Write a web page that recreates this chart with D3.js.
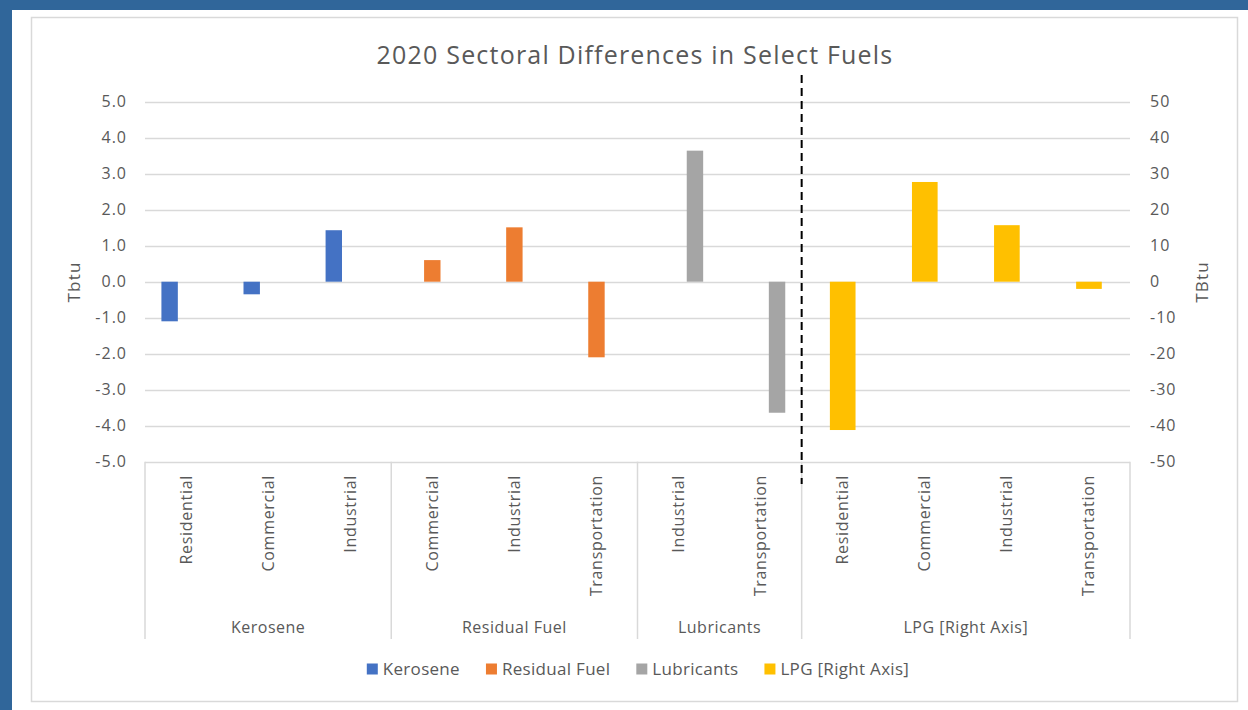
<!DOCTYPE html>
<html>
<head>
<meta charset="utf-8">
<script src="https://cdn.jsdelivr.net/npm/d3@7"></script>
<style>
  body { margin: 0; background: #30669a; }
  svg { display: block; }
  text { font-family: "Open Sans", Lato, sans-serif; fill: #595959; }
</style>
</head>
<body>
<svg width="1248" height="710"></svg>
<script>
// categories along the x axis, grouped by fuel
var fuels = ["Kerosene", "Residual Fuel", "Lubricants", "LPG [Right Axis]"];
var sectors = [
  ["Residential", "Commercial", "Industrial"],
  ["Commercial", "Industrial", "Transportation"],
  ["Industrial", "Transportation"],
  ["Residential", "Commercial", "Industrial", "Transportation"]
];
// values per fuel, same order as sectors (LPG on the right axis)
var kerosene = [-1.1, -0.35, 1.43];
var residualFuel = [0.6, 1.51, -2.1];
var lubricants = [3.64, -3.64];
var lpg = [-41.2, 27.7, 15.7, -2.0];

var leftTicks = [5, 4, 3, 2, 1, 0, -1, -2, -3, -4, -5];
var rightTicks = [50, 40, 30, 20, 10, 0, -10, -20, -30, -40, -50];

var colors = ["#4472c4", "#ed7d31", "#a5a5a5", "#ffc000"];
var values = [kerosene, residualFuel, lubricants, lpg];

// flat list of categories
var cats = [];
fuels.forEach(function(f, i) {
  sectors[i].forEach(function(s, j) {
    cats.push({ id: f + "|" + s, fuel: f, sector: s, series: i, value: values[i][j] });
  });
});

var svg = d3.select("svg");

// white page + light chart border
svg.append("rect").attr("x", 12).attr("y", 10).attr("width", 1236).attr("height", 700).attr("fill", "#fff");
svg.append("rect").attr("x", 31.5).attr("y", 17.5).attr("width", 1206).attr("height", 684)
  .attr("fill", "#fff").attr("stroke", "#d9d9d9").attr("stroke-width", 1.5);

var plotLeft = 145, plotRight = 1130, plotTop = 101.7, plotBottom = 461.7;

var x = d3.scaleBand().domain(cats.map(function(d) { return d.id; }))
  .range([plotLeft, plotRight]).paddingInner(0).paddingOuter(0);
var y = d3.scaleLinear().domain([-5, 5]).range([plotBottom, plotTop]);
var y2 = d3.scaleLinear().domain([-50, 50]).range([plotBottom, plotTop]);

// primary series share a cluster of 3, secondary has its own cluster of 1
var sub = d3.scaleBand().domain([0, 1, 2]).range([0, x.bandwidth()]).paddingInner(0).paddingOuter(1);
var sub2 = d3.scaleBand().domain([3]).range([0, x.bandwidth()]).paddingInner(0).paddingOuter(1.1);

// gridlines
svg.append("g").selectAll("line").data(leftTicks).enter().append("line")
  .attr("x1", plotLeft).attr("x2", plotRight)
  .attr("y1", function(d) { return Math.round(y(d)) + 0.5; })
  .attr("y2", function(d) { return Math.round(y(d)) + 0.5; })
  .attr("stroke", "#d9d9d9").attr("stroke-width", 1.5);

// excel uses a plain hyphen for negatives
var fmt1 = function(d) { return d3.format(".1f")(d).replace("\u2212", "-"); };
var fmt0 = function(d) { return d3.format("d")(d).replace("\u2212", "-"); };

// left axis
var yAxis = d3.axisLeft(y).tickValues(leftTicks).tickSize(0).tickPadding(18).tickFormat(fmt1);
var gy = svg.append("g").attr("transform", "translate(" + plotLeft + ",0)").call(yAxis);
gy.select(".domain").remove();
gy.selectAll("text").style("font-size", "16px").style("letter-spacing", "1px").attr("fill", "#595959");

// right axis
var yAxis2 = d3.axisRight(y2).tickValues(rightTicks).tickSize(0).tickPadding(20).tickFormat(fmt0);
var gy2 = svg.append("g").attr("transform", "translate(" + plotRight + ",0)").call(yAxis2);
gy2.select(".domain").remove();
gy2.selectAll("text").style("font-size", "16px").style("letter-spacing", "1px").attr("fill", "#595959");
svg.selectAll("g").attr("font-family", null).attr("font-size", null);

// bars
svg.append("g").selectAll("rect").data(cats).enter().append("rect")
  .attr("x", function(d) {
    return x(d.id) + (d.series < 3 ? sub(d.series) : sub2(3));
  })
  .attr("width", function(d) { return d.series < 3 ? sub.bandwidth() : sub2.bandwidth(); })
  .attr("y", function(d) {
    var s = d.series < 3 ? y : y2;
    return Math.min(s(0), s(d.value));
  })
  .attr("height", function(d) {
    var s = d.series < 3 ? y : y2;
    return Math.abs(s(d.value) - s(0));
  })
  .attr("fill", function(d) { return colors[d.series]; });

// category axis: boundaries between fuel groups
var bounds = [plotLeft];
var acc = 0;
sectors.forEach(function(s) { acc += s.length; bounds.push(plotLeft + acc * x.step()); });
svg.append("g").selectAll("line").data(bounds).enter().append("line")
  .attr("x1", function(d) { return d; }).attr("x2", function(d) { return d; })
  .attr("y1", plotBottom).attr("y2", 639)
  .attr("stroke", "#d9d9d9").attr("stroke-width", 1.5);

// sector labels
svg.append("g").selectAll("text").data(cats).enter().append("text")
  .attr("transform", function(d) {
    return "translate(" + (x(d.id) + x.bandwidth() / 2 + 5.5) + ",475) rotate(-90)";
  })
  .attr("text-anchor", "end")
  .style("font-size", "16px").style("letter-spacing", "0.7px")
  .text(function(d) { return d.sector; });

// fuel group labels
svg.append("g").selectAll("text").data(fuels).enter().append("text")
  .attr("x", function(d, i) { return (bounds[i] + bounds[i + 1]) / 2; })
  .attr("y", 633)
  .attr("text-anchor", "middle")
  .style("font-size", "16px").style("letter-spacing", "0.5px")
  .text(function(d) { return d; });

// dashed divider before LPG
svg.append("line")
  .attr("x1", bounds[3]).attr("x2", bounds[3])
  .attr("y1", 75).attr("y2", 484)
  .attr("stroke", "#000").attr("stroke-width", 2)
  .attr("stroke-dasharray", "8,5");

// title
svg.append("text").attr("x", 635).attr("y", 64).attr("text-anchor", "middle")
  .style("font-size", "25px").style("letter-spacing", "1.2px")
  .text("2020 Sectoral Differences in Select Fuels");

// axis titles
svg.append("text").attr("transform", "translate(80,282) rotate(-90)")
  .attr("text-anchor", "middle").style("font-size", "17px").style("letter-spacing", "1.2px").text("Tbtu");
svg.append("text").attr("transform", "translate(1208,282) rotate(-90)")
  .attr("text-anchor", "middle").style("font-size", "17px").style("letter-spacing", "1.2px").text("TBtu");

// legend, laid out from measured text widths and centred
var lg = svg.append("g");
var items = lg.selectAll("g").data(fuels).enter().append("g");
items.append("rect").attr("x", 0).attr("y", -5.5).attr("width", 11).attr("height", 11)
  .attr("fill", function(d, i) { return colors[i]; });
items.append("text").attr("x", 16).attr("y", 6).style("font-size", "17px").style("letter-spacing", "0.3px")
  .text(function(d) { return d; });
var pos = 0;
items.each(function() {
  var w = d3.select(this).select("text").node().getComputedTextLength();
  d3.select(this).attr("transform", "translate(" + pos + ",0)");
  pos += 16 + w + 26;
});
var legendW = pos - 26;
lg.attr("transform", "translate(" + (638 - legendW / 2) + ",669)");
</script>
</body>
</html>
